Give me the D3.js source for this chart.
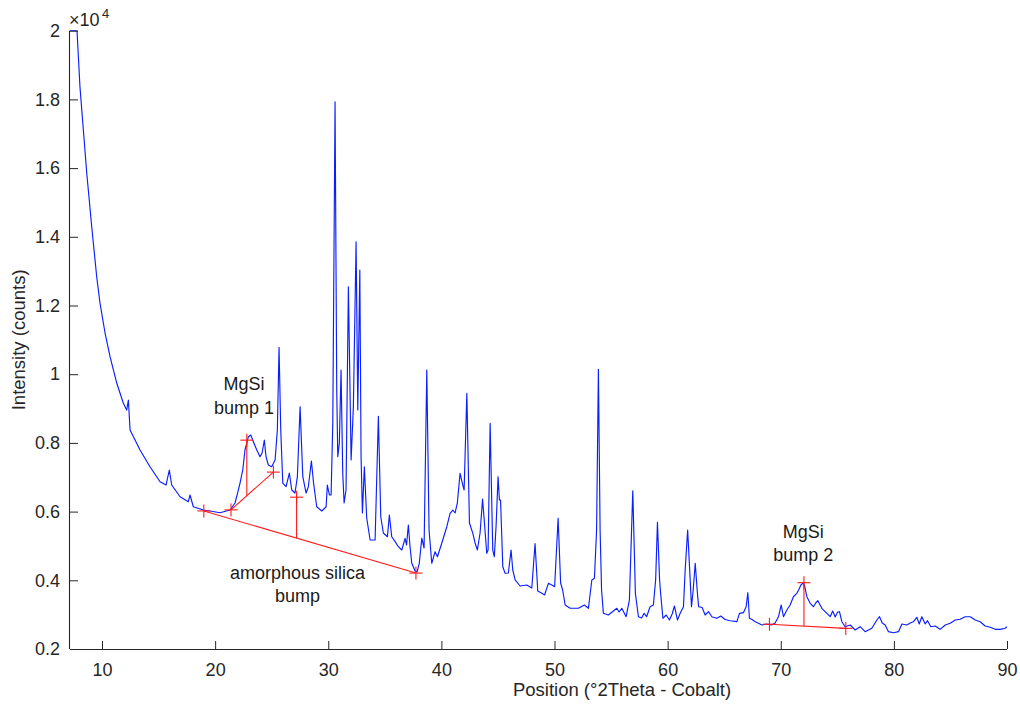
<!DOCTYPE html>
<html>
<head>
<meta charset="utf-8">
<script src="https://cdn.jsdelivr.net/npm/d3@7"></script>
<style>
  html, body { margin: 0; padding: 0; background: #fff; }
  svg { display: block; }
  text { font-family: "Liberation Sans", Arial, Helvetica, sans-serif; }
</style>
</head>
<body>
<svg id="chart" width="1020" height="710"></svg>
<script>
// ---- Data (2Theta in degrees, intensity in counts) ----
const twoTheta = [
  7.17, 7.79, 8.05, 8.35, 8.65, 9.09, 9.53, 9.82, 10.27, 10.71, 11.30, 11.88, 12.18, 12.33, 12.48,
  13.36, 14.24, 15.13, 15.66, 15.95, 16.16, 16.90, 17.63, 17.78, 18.07, 18.96, 19.55, 20.43, 21.32,
  21.76, 22.05, 22.20, 22.44, 22.64, 22.94, 23.15, 23.38, 23.68, 23.97, 24.15, 24.35, 24.50, 24.70,
  25.00, 25.30, 25.50, 25.65, 25.80, 25.98, 26.27, 26.56, 26.77, 27.06, 27.27, 27.51, 27.75, 28.04,
  28.24, 28.51, 28.70, 28.98, 29.43, 29.81, 29.92, 30.10, 30.25, 30.40, 30.60, 30.75, 30.84, 30.98,
  31.13, 31.28, 31.40, 31.57, 31.78, 32.02, 32.22, 32.46, 32.61, 32.79, 32.90, 33.02, 33.19, 33.40,
  33.70, 34.14, 34.43, 34.64, 34.87, 35.23, 35.40, 35.61, 35.91, 36.20, 36.50, 36.79, 36.92, 37.08,
  37.23, 37.38, 37.67, 37.85, 38.05, 38.27, 38.47, 38.71, 38.91, 39.15, 39.44, 39.65, 40.04, 40.48,
  40.77, 41.01, 41.21, 41.41, 41.65, 41.83, 42.01, 42.25, 42.48, 42.78, 42.98, 43.18, 43.42, 43.64,
  43.82, 44.01, 44.13, 44.31, 44.54, 44.68, 44.84, 45.01, 45.13, 45.23, 45.43, 45.63, 45.92, 46.16,
  46.31, 46.52, 46.96, 47.55, 47.99, 48.28, 48.52, 48.88, 49.12, 49.46, 49.76, 50.01, 50.32, 50.54,
  50.72, 50.94, 51.38, 52.11, 52.64, 53.00, 53.30, 53.53, 53.72, 53.88, 54.03, 54.16, 54.32, 54.77,
  55.09, 55.51, 55.71, 55.95, 56.33, 56.62, 56.92, 57.15, 57.42, 57.70, 57.92, 58.14, 58.45, 58.74,
  58.94, 59.10, 59.29, 59.38, 59.58, 59.87, 60.16, 60.40, 60.60, 60.87, 61.11, 61.40, 61.55, 61.77,
  61.95, 62.11, 62.26, 62.44, 62.61, 62.74, 63.05, 63.32, 63.61, 63.91, 64.35, 64.70, 65.08, 65.53,
  66.12, 66.35, 66.70, 66.94, 67.09, 67.23, 67.47, 67.74, 68.03, 68.33, 68.77, 69.19, 69.50, 69.80,
  70.04, 70.24, 70.54, 70.83, 71.12, 71.42, 71.58, 71.78, 71.98, 72.11, 72.31, 72.60, 72.89, 73.09,
  73.28, 73.63, 74.08, 74.37, 74.59, 74.81, 75.03, 75.19, 75.40, 75.69, 76.14, 76.58, 77.02, 77.46,
  78.05, 78.50, 78.73, 78.97, 79.23, 79.52, 79.96, 80.41, 80.71, 81.15, 81.44, 81.73, 82.03, 82.24,
  82.47, 82.77, 82.97, 83.27, 83.65, 84.09, 84.54, 84.98, 85.42, 85.86, 86.30, 86.75, 87.19, 87.63,
  88.07, 88.51, 88.96, 89.40, 89.84, 90.00
];
const counts = [
  20000, 20000, 18370, 17108, 15856, 14293, 12838, 12072, 11199, 10509, 9743, 9161, 8957, 9248, 8375,
  7793, 7307, 6870, 6774, 7211, 6774, 6433, 6288, 6483, 6142, 6046, 6017, 5968, 6046,
  6250, 6628, 6832, 7211, 7793, 8180, 8230, 8035, 7793, 7598, 7706, 8084, 7598, 7356,
  7307, 7502, 8375, 10780, 8375, 6832, 6725, 7123, 6628, 6541, 7016, 9053, 7016, 6541,
  6725, 7473, 6832, 6142, 6017, 6142, 6774, 6483, 6483, 8579, 17932, 9539, 7598, 7997,
  10122, 7123, 6250, 6628, 12547, 7502, 9053, 13857, 8957, 13033, 7598, 5959, 7307, 5813,
  5173, 5173, 8774, 5851, 5377, 5269, 5901, 5269, 5124, 4978, 4882, 5222, 5027, 5610,
  4978, 4503, 4271, 4241, 4503, 5231, 4940, 10122, 5464, 4495, 4832, 4687, 5086, 5560,
  5950, 6046, 5959, 6250, 7115, 6861, 6628, 9443, 5668, 5368, 5086, 4882, 5377, 6367,
  5610, 4786, 4882, 8570, 4882, 4687, 5610, 7016, 6337, 6337, 4396, 4204, 4212, 4882,
  4300, 4009, 3834, 3863, 3776, 5071, 3688, 3621, 3572, 3912, 3863, 3814, 5805, 3921,
  3717, 3281, 3185, 3185, 3281, 3185, 4009, 4058, 5464, 10142, 5464, 3717, 3039, 2990,
  3077, 3185, 3077, 3185, 2940, 3426, 6608, 3621, 2940, 2902, 3039, 2940, 3231, 3281,
  4009, 5688, 4009, 3621, 2894, 2990, 2844, 3019, 3252, 2844, 3039, 3231, 4300, 5464,
  4300, 3231, 3717, 4495, 3717, 3231, 3208, 2990, 3086, 2940, 2894, 2961, 2859, 2824,
  2795, 3039, 3057, 3231, 3639, 2894, 2859, 2795, 2748, 2699, 2728, 2699, 2757, 2940,
  3281, 2940, 3135, 3281, 3522, 3621, 3717, 3863, 3921, 3834, 3522, 3330, 3231, 3339,
  3406, 3185, 3039, 2940, 3106, 2932, 3077, 3086, 2795, 2649, 2699, 2553, 2649, 2504,
  2603, 2844, 2940, 2757, 2699, 2504, 2474, 2504, 2728, 2699, 2757, 2795, 2923, 2728,
  2940, 2728, 2824, 2649, 2670, 2573, 2699, 2748, 2844, 2865, 2940, 2940, 2844, 2795,
  2670, 2632, 2573, 2573, 2603, 2649
];

// Axis ticks
const xTicks = [10, 20, 30, 40, 50, 60, 70, 80, 90];
const yTicks = [2000, 4000, 6000, 8000, 10000, 12000, 14000, 16000, 18000, 20000];
const yTickLabels = ["0.2", "0.4", "0.6", "0.8", "1", "1.2", "1.4", "1.6", "1.8", "2"];

// Annotation markers (red crosses) and construction lines
const markX = [19.0, 21.4, 22.8, 25.15, 27.2, 37.75, 69.0, 72.05, 75.75];
const markY = [6020, 6050, 8080, 7150, 6420, 4210, 2720, 3930, 2600];
// line segments defined by marker indices
const segFrom = [0, 1, 6];
const segTo   = [5, 3, 8];
// vertical drops: from marker index down to the segment index
const dropMark = [2, 4, 7];
const dropSeg  = [1, 0, 2];

// Text annotations
const noteLines = [["MgSi", "bump 1"], ["amorphous silica", "bump"], ["MgSi", "bump 2"]];
const noteX = [22.56, 27.29, 71.98];
const noteY = [9379, 3878, 5086];

// ---- Drawing ----
(function () {
  const mLeft = 70, mRight = 1007, mTop = 30.7, mBottom = 649;
  const axisColor = "#262626";

  const x = d3.scaleLinear().domain([7.17, 90]).range([mLeft, mRight]);
  const y = d3.scaleLinear().domain([2000, 20000]).range([mBottom, mTop]);

  const svg = d3.select("#chart");

  svg.append("defs").append("clipPath").attr("id", "plotclip")
    .append("rect").attr("x", mLeft).attr("y", mTop - 1)
    .attr("width", mRight - mLeft).attr("height", mBottom - mTop + 1);

  // Data line
  const pts = twoTheta.map((t, i) => [t, counts[i]]);
  svg.append("path")
    .datum(pts)
    .attr("clip-path", "url(#plotclip)")
    .attr("fill", "none")
    .attr("stroke", "#0a1eff")
    .attr("stroke-width", 1.15)
    .attr("stroke-linejoin", "round")
    .attr("d", d3.line().x(d => x(d[0])).y(d => y(d[1])));

  // Red construction lines
  const red = "#ff1a1a";
  const g = svg.append("g").attr("stroke", red).attr("stroke-width", 1.1).attr("fill", "none");
  segFrom.forEach((a, i) => {
    const b = segTo[i];
    g.append("line")
      .attr("x1", x(markX[a])).attr("y1", y(markY[a]))
      .attr("x2", x(markX[b])).attr("y2", y(markY[b]));
  });
  dropMark.forEach((m, i) => {
    const s = dropSeg[i];
    const a = segFrom[s], b = segTo[s];
    const t = (markX[m] - markX[a]) / (markX[b] - markX[a]);
    const yv = markY[a] + t * (markY[b] - markY[a]);
    g.append("line")
      .attr("x1", x(markX[m])).attr("y1", y(markY[m]))
      .attr("x2", x(markX[m])).attr("y2", y(yv));
  });
  const cs = 6.5;
  markX.forEach((mx, i) => {
    const px = x(mx), py = y(markY[i]);
    g.append("line").attr("x1", px - cs).attr("x2", px + cs).attr("y1", py).attr("y2", py);
    g.append("line").attr("x1", px).attr("x2", px).attr("y1", py - cs).attr("y2", py + cs);
  });

  // Axes
  const xAxis = d3.axisBottom(x).tickValues(xTicks).tickSize(-8).tickPadding(14).tickFormat(d3.format("d"));
  const yAxis = d3.axisLeft(y).tickValues(yTicks).tickSize(-8).tickPadding(10)
    .tickFormat((d, i) => yTickLabels[i]);

  const gx = svg.append("g").attr("transform", `translate(0,${mBottom})`).call(xAxis);
  const gy = svg.append("g").attr("transform", `translate(${mLeft},0)`).call(yAxis);
  gx.select(".domain").attr("d", `M${mLeft},0.5H${mRight}`);
  gy.select(".domain").attr("d", `M-0.5,${mTop}V${mBottom}`);
  [gx, gy].forEach(ax => {
    ax.select(".domain").attr("stroke", axisColor).attr("stroke-width", 1.1);
    ax.selectAll(".tick line").attr("stroke", axisColor);
    ax.selectAll(".tick text").attr("fill", axisColor).style("font-size", "18px")
      .style("font-family", '"Liberation Sans", Arial, sans-serif');
  });
  gx.selectAll(".tick text").attr("dy", "0.71em");

  // exponent label
  svg.append("text").attr("x", 69).attr("y", 26).attr("fill", axisColor)
    .style("font-size", "18px").text("\u00d710");
  svg.append("text").attr("x", 102).attr("y", 18).attr("fill", axisColor)
    .style("font-size", "13px").text("4");

  // axis labels
  svg.append("text")
    .attr("transform", `translate(19,${(mTop + mBottom) / 2}) rotate(-90)`)
    .attr("text-anchor", "middle").attr("dy", "0.35em")
    .attr("fill", axisColor).style("font-size", "18.5px")
    .text("Intensity (counts)");
  svg.append("text")
    .attr("x", 622).attr("y", 696)
    .attr("text-anchor", "middle")
    .attr("fill", axisColor).style("font-size", "18.5px")
    .text("Position (\u00b02Theta - Cobalt)");

  // annotations
  noteLines.forEach((lines, i) => {
    const t = svg.append("text")
      .attr("x", x(noteX[i])).attr("y", y(noteY[i]))
      .attr("text-anchor", "middle").attr("fill", "#1a1a1a")
      .style("font-size", "18px");
    lines.forEach((ln, j) => {
      t.append("tspan").attr("x", x(noteX[i]))
        .attr("dy", j === 0 ? "-0.3em" : "1.3em").text(ln);
    });
  });
})();
</script>
</body>
</html>
